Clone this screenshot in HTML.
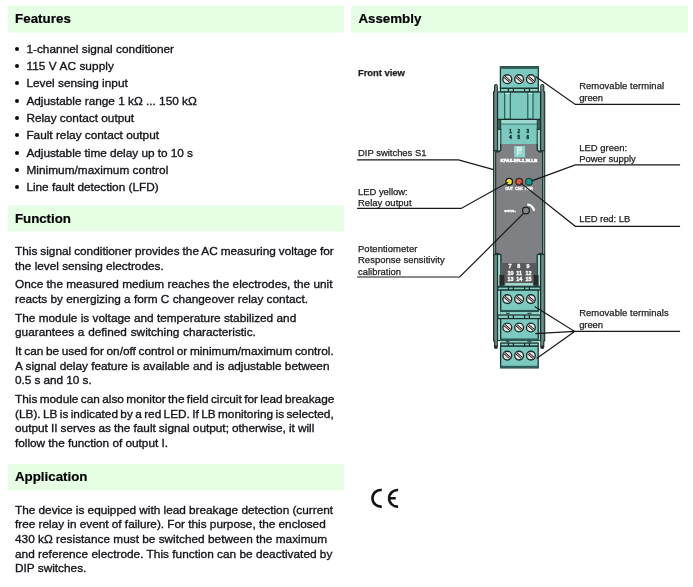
<!DOCTYPE html>
<html lang="en">
<head>
<meta charset="utf-8">
<title>Signal conditioner - Features / Assembly</title>
<style>
html,body{margin:0;padding:0;background:#fff;}
body{width:693px;height:587px;position:relative;overflow:hidden;font-family:"Liberation Sans",Arial,Helvetica,sans-serif;color:#13141a;}
#txt{position:absolute;left:0;top:0;width:693px;height:587px;will-change:transform;}
.t{position:absolute;white-space:nowrap;line-height:1;margin:0;padding:0;font-weight:400;-webkit-text-stroke:0.34px currentColor;}
.b{font-size:11.82px;}
.h{font-size:13.33px;font-weight:700;color:#000;-webkit-text-stroke-width:0.2px;}
.l{font-size:9.45px;-webkit-text-stroke-width:0.25px;color:#1c1c1f;}
.dot{position:absolute;width:4px;height:4px;border-radius:50%;background:#0c0c0c;}
svg{position:absolute;left:0;top:0;will-change:transform;}
svg text{font-family:"Liberation Sans",Arial,Helvetica,sans-serif;}
</style>
</head>
<body>
<svg width="693" height="587" viewBox="0 0 693 587" role="img" aria-label="Front view of the device with callouts">
<defs>
<linearGradient id="rl" x1="0" x2="1" y1="0" y2="0"><stop offset="0" stop-color="#486862"/><stop offset="1" stop-color="#8eaca7"/></linearGradient>
<linearGradient id="rr" x1="0" x2="1" y1="0" y2="0"><stop offset="0" stop-color="#8eaca7"/><stop offset="1" stop-color="#486862"/></linearGradient>
</defs>
<rect x="7.4" y="5.8" width="336.4" height="26.9" fill="#e5fee4"/>
<rect x="351.2" y="5.8" width="336.8" height="26.9" fill="#e5fee4"/>
<rect x="7.4" y="205.3" width="336.4" height="26.1" fill="#e5fee4"/>
<rect x="7.4" y="463.9" width="336.4" height="26.3" fill="#e5fee4"/>
<path d="M494.50 346.8 V341 H493.60 V91.8 H494.50 V86.2 Q494.50 84.55 495.90 84.55 Q497.30 84.55 497.30 86.2 V346.8 Q497.30 348.5 495.90 348.5 Q494.50 348.5 494.50 346.8 Z" fill="url(#rl)" stroke="#17302d" stroke-width="1.1" stroke-linejoin="round"/>
<rect x="494.50" y="345.4" width="2.80" height="2.8" fill="#2a2f2e"/>
<path d="M543.80 346.8 V341 H544.70 V91.8 H543.80 V86.2 Q543.80 84.55 542.30 84.55 Q540.80 84.55 540.80 86.2 V346.8 Q540.80 348.5 542.30 348.5 Q543.80 348.5 543.80 346.8 Z" fill="url(#rr)" stroke="#17302d" stroke-width="1.1" stroke-linejoin="round"/>
<rect x="540.80" y="345.4" width="3.00" height="2.8" fill="#2a2f2e"/>
<rect x="497.6" y="91.9" width="42.9" height="60" fill="#7ccabf" stroke="#17302d" stroke-width="1.1"/>
<rect x="504.7" y="92.2" width="5.6" height="27" fill="#86d0c5" stroke="#265a54" stroke-width="1.2"/>
<rect x="505.3" y="92.7" width="4.4" height="1.3" fill="#c4e8e2"/>
<rect x="527.8" y="92.2" width="5.2" height="27" fill="#86d0c5" stroke="#265a54" stroke-width="1.2"/>
<rect x="528.4" y="92.7" width="4.0" height="1.3" fill="#c4e8e2"/>
<rect x="500.8" y="119.3" width="36.4" height="4.4" fill="#9fd9d0"/>
<rect x="500.8" y="124.6" width="36.4" height="19.4" fill="#7ccabf"/>
<path d="M500.8 124.1 H537.2" stroke="#3f837b" stroke-width="1"/>
<rect x="497.6" y="129.2" width="3.2" height="22" fill="#a4dbd3" stroke="#17302d" stroke-width="1"/>
<rect x="497.6" y="119.5" width="3.2" height="9.7" fill="#3b5b56" stroke="#17302d" stroke-width="0.8"/>
<rect x="537.2" y="129.2" width="3.2" height="22" fill="#a4dbd3" stroke="#17302d" stroke-width="1"/>
<rect x="537.2" y="119.5" width="3.2" height="9.7" fill="#3b5b56" stroke="#17302d" stroke-width="0.8"/>
<path d="M497.6 119.3 H540.5" stroke="#17302d" stroke-width="1.2"/>
<rect x="500.4" y="88.2" width="37.9" height="3.6" fill="#88cfc4" stroke="#17302d" stroke-width="1.2"/>
<path d="M508.4 88.2 V91.8 M513.4 88.2 V91.8 M524.6 88.2 V91.8 M529.4 88.2 V91.8" stroke="#17302d" stroke-width="1.3" fill="none"/>
<rect x="500.4" y="66.7" width="37.9" height="21.5" fill="#7ccabf" stroke="#17302d" stroke-width="1.25"/>
<rect x="500.0" y="66.3" width="38.7" height="2.6" fill="#2f5e58"/>
<g><circle cx="507.3" cy="79.2" r="4.4" fill="#e6e6e6" stroke="#17302d" stroke-width="1.35"/><path d="M504.24 76.54 L510.36 81.86" stroke="#c9a9a9" stroke-width="1.5" fill="none"/><path d="M504.89 75.98 L510.82 81.13" stroke="#281819" stroke-width="1.0" fill="none"/><path d="M503.78 77.27 L509.71 82.42" stroke="#281819" stroke-width="1.0" fill="none"/></g>
<g><circle cx="519.1" cy="79.2" r="4.4" fill="#e6e6e6" stroke="#17302d" stroke-width="1.35"/><path d="M516.04 76.54 L522.16 81.86" stroke="#c9a9a9" stroke-width="1.5" fill="none"/><path d="M516.69 75.98 L522.62 81.13" stroke="#281819" stroke-width="1.0" fill="none"/><path d="M515.58 77.27 L521.51 82.42" stroke="#281819" stroke-width="1.0" fill="none"/></g>
<g><circle cx="530.9" cy="79.2" r="4.4" fill="#e6e6e6" stroke="#17302d" stroke-width="1.35"/><path d="M527.84 76.54 L533.96 81.86" stroke="#c9a9a9" stroke-width="1.5" fill="none"/><path d="M528.49 75.98 L534.42 81.13" stroke="#281819" stroke-width="1.0" fill="none"/><path d="M527.38 77.27 L533.31 82.42" stroke="#281819" stroke-width="1.0" fill="none"/></g>
<g font-size="4.5" font-weight="700" fill="#0f322e" stroke="#0f322e" stroke-width="0.4" text-anchor="middle"><text x="510.5" y="132.7">1</text><text x="510.5" y="138.8">4</text><text x="518.7" y="132.7">2</text><text x="518.7" y="138.8">5</text><text x="527.7" y="132.7">3</text><text x="527.7" y="138.8">6</text></g>
<path d="M500.8 143.9 H537.2 V150.0 L539.2 151.8 H543.6 V253.6 H539.2 L537.4 255.4 V263 H500.8 V255.4 L498.8 253.6 H494.4 V151.8 H498.8 L500.8 150.0 Z" fill="#7e8083"/>
<path d="M500.8 143.9 V150.0 L498.8 151.8 H495.6 V253.6 H498.8 L500.8 255.4 V286 M537.2 143.9 V150.0 L539.2 151.8 H542.6 V253.6 H539.2 L537.4 255.4 V286" fill="none" stroke="#17302d" stroke-width="1.2"/>
<path d="M493.4 150.6 H497.6 M540.5 150.6 H544.6 M493.4 254.6 H497.6 M540.5 254.6 H544.6" fill="none" stroke="#17302d" stroke-width="1"/>
<path d="M494.55 151.8 V253.6 M543.55 151.8 V253.6" fill="none" stroke="#7c9a94" stroke-width="1.2"/>
<rect x="501.4" y="263" width="35.5" height="22.7" fill="#595b5e"/>
<rect x="514.1" y="146.1" width="11" height="11.2" fill="#8ed3c9"/>
<path d="M517.5 155.6 V147.2 H521.2 V150.6 H517.5 M517.5 153.0 H521.8" stroke="#dcf4f0" stroke-width="1.15" fill="#b9e6df"/>
<text x="500.4" y="161.8" font-size="3.9" font-weight="700" fill="#ffffff" stroke="#ffffff" stroke-width="0.4" textLength="37" lengthAdjust="spacingAndGlyphs">KFA5-ER-1.W.LB</text>
<circle cx="509.2" cy="181.7" r="3.3" fill="#f4e43a" stroke="#1e1e1e" stroke-width="1.3"/>
<circle cx="519.2" cy="181.7" r="3.3" fill="#e6553c" stroke="#3a2a26" stroke-width="1.3"/>
<circle cx="529.0" cy="181.7" r="3.3" fill="#17998b" stroke="#1c4a45" stroke-width="1.3"/>
<g font-size="3.5" font-weight="700" fill="#ffffff" stroke="#ffffff" stroke-width="0.3" text-anchor="middle"><text x="509.2" y="189.8">OUT</text><text x="519.0" y="189.8">CHK</text><text x="528.8" y="189.8">PWR</text></g>
<path d="M527.3 204.7 A6.8 6.8 0 0 1 534.1 210.9" stroke="#ffffff" stroke-width="2.3" fill="none"/>
<circle cx="525.9" cy="210.5" r="3.4" fill="#818386" stroke="#222222" stroke-width="1.2"/>
<text x="504.3" y="212.1" font-size="4" font-weight="700" fill="#ffffff" stroke="#ffffff" stroke-width="0.3" textLength="11.6" lengthAdjust="spacingAndGlyphs">sens.</text>
<rect x="497.6" y="254.6" width="3.2" height="86" fill="#a4dbd3" stroke="#17302d" stroke-width="1"/>
<rect x="537.3" y="254.6" width="3.2" height="86" fill="#a4dbd3" stroke="#17302d" stroke-width="1"/>
<rect x="500.3" y="285.7" width="38.3" height="57.5" fill="#8fd2c8"/>
<g font-size="5.4" font-weight="700" fill="#ffffff" stroke="#ffffff" stroke-width="0.35" text-anchor="middle"><text x="510.1" y="267.9">7</text><text x="518.8" y="267.9">8</text><text x="528.1" y="267.9">9</text><text x="510.5" y="275.0">10</text><text x="519.2" y="275.0">11</text><text x="528.4" y="275.0">12</text><text x="510.5" y="280.9">13</text><text x="519.2" y="280.9">14</text><text x="528.4" y="280.9">15</text></g>
<rect x="499.4" y="274.9" width="4.9" height="10.8" fill="#2b2c2a"/>
<rect x="533.7" y="274.9" width="4.9" height="10.8" fill="#2b2c2a"/>
<rect x="505.2" y="283.1" width="27.7" height="2.6" fill="#a6ddd5"/>
<path d="M497.6 286.2 H540.5" stroke="#17302d" stroke-width="1.1"/>
<rect x="497.8" y="287.0" width="42.6" height="3.1" fill="#88cfc4" stroke="#17302d" stroke-width="1.2"/>
<path d="M508.4 287.0 V290.1 M513.4 287.0 V290.1 M524.6 287.0 V290.1 M529.4 287.0 V290.1" stroke="#17302d" stroke-width="1.3" fill="none"/>
<rect x="500.7" y="290.1" width="37.5" height="21.3" fill="#7ccabf" stroke="#17302d" stroke-width="1.25"/>
<rect x="500.3" y="309.9" width="38.3" height="1.9" fill="#2f5e58"/>
<g><circle cx="507.3" cy="299.1" r="4.4" fill="#e6e6e6" stroke="#17302d" stroke-width="1.35"/><path d="M504.24 296.44 L510.36 301.76" stroke="#c9a9a9" stroke-width="1.5" fill="none"/><path d="M504.89 295.88 L510.82 301.03" stroke="#281819" stroke-width="1.0" fill="none"/><path d="M503.78 297.17 L509.71 302.32" stroke="#281819" stroke-width="1.0" fill="none"/></g>
<g><circle cx="519.1" cy="299.1" r="4.4" fill="#e6e6e6" stroke="#17302d" stroke-width="1.35"/><path d="M516.04 296.44 L522.16 301.76" stroke="#c9a9a9" stroke-width="1.5" fill="none"/><path d="M516.69 295.88 L522.62 301.03" stroke="#281819" stroke-width="1.0" fill="none"/><path d="M515.58 297.17 L521.51 302.32" stroke="#281819" stroke-width="1.0" fill="none"/></g>
<g><circle cx="530.9" cy="299.1" r="4.4" fill="#e6e6e6" stroke="#17302d" stroke-width="1.35"/><path d="M527.84 296.44 L533.96 301.76" stroke="#c9a9a9" stroke-width="1.5" fill="none"/><path d="M528.49 295.88 L534.42 301.03" stroke="#281819" stroke-width="1.0" fill="none"/><path d="M527.38 297.17 L533.31 302.32" stroke="#281819" stroke-width="1.0" fill="none"/></g>
<path d="M506 313.3 H509.5 M527.4 313.3 H531.5" stroke="#17302d" stroke-width="1"/>
<rect x="497.8" y="315.0" width="42.6" height="3.6" fill="#88cfc4" stroke="#17302d" stroke-width="1.2"/>
<path d="M508.4 315.0 V318.6 M513.4 315.0 V318.6 M524.6 315.0 V318.6 M529.4 315.0 V318.6" stroke="#17302d" stroke-width="1.3" fill="none"/>
<rect x="500.7" y="318.6" width="37.5" height="21.6" fill="#7ccabf" stroke="#17302d" stroke-width="1.25"/>
<rect x="500.3" y="338.4" width="38.3" height="2.2" fill="#2f5e58"/>
<g><circle cx="507.3" cy="327.5" r="4.4" fill="#e6e6e6" stroke="#17302d" stroke-width="1.35"/><path d="M504.24 324.84 L510.36 330.16" stroke="#c9a9a9" stroke-width="1.5" fill="none"/><path d="M504.89 324.28 L510.82 329.43" stroke="#281819" stroke-width="1.0" fill="none"/><path d="M503.78 325.57 L509.71 330.72" stroke="#281819" stroke-width="1.0" fill="none"/></g>
<g><circle cx="519.1" cy="327.5" r="4.4" fill="#e6e6e6" stroke="#17302d" stroke-width="1.35"/><path d="M516.04 324.84 L522.16 330.16" stroke="#c9a9a9" stroke-width="1.5" fill="none"/><path d="M516.69 324.28 L522.62 329.43" stroke="#281819" stroke-width="1.0" fill="none"/><path d="M515.58 325.57 L521.51 330.72" stroke="#281819" stroke-width="1.0" fill="none"/></g>
<g><circle cx="530.9" cy="327.5" r="4.4" fill="#e6e6e6" stroke="#17302d" stroke-width="1.35"/><path d="M527.84 324.84 L533.96 330.16" stroke="#c9a9a9" stroke-width="1.5" fill="none"/><path d="M528.49 324.28 L534.42 329.43" stroke="#281819" stroke-width="1.0" fill="none"/><path d="M527.38 325.57 L533.31 330.72" stroke="#281819" stroke-width="1.0" fill="none"/></g>
<path d="M506 341.8 H509.5 M527.4 341.8 H531.5" stroke="#17302d" stroke-width="1"/>
<rect x="500.7" y="343.1" width="37.5" height="3.1" fill="#88cfc4" stroke="#17302d" stroke-width="1.2"/>
<path d="M508.4 343.1 V346.2 M513.4 343.1 V346.2 M524.6 343.1 V346.2 M529.4 343.1 V346.2" stroke="#17302d" stroke-width="1.3" fill="none"/>
<rect x="500.6" y="346.2" width="37.6" height="21.6" fill="#7ccabf" stroke="#17302d" stroke-width="1.25"/>
<rect x="500.2" y="365.8" width="38.4" height="2.4" fill="#2f5e58"/>
<g><circle cx="507.3" cy="355.6" r="4.4" fill="#e6e6e6" stroke="#17302d" stroke-width="1.35"/><path d="M504.24 352.94 L510.36 358.26" stroke="#c9a9a9" stroke-width="1.5" fill="none"/><path d="M504.89 352.38 L510.82 357.53" stroke="#281819" stroke-width="1.0" fill="none"/><path d="M503.78 353.67 L509.71 358.82" stroke="#281819" stroke-width="1.0" fill="none"/></g>
<g><circle cx="519.1" cy="355.6" r="4.4" fill="#e6e6e6" stroke="#17302d" stroke-width="1.35"/><path d="M516.04 352.94 L522.16 358.26" stroke="#c9a9a9" stroke-width="1.5" fill="none"/><path d="M516.69 352.38 L522.62 357.53" stroke="#281819" stroke-width="1.0" fill="none"/><path d="M515.58 353.67 L521.51 358.82" stroke="#281819" stroke-width="1.0" fill="none"/></g>
<g><circle cx="530.9" cy="355.6" r="4.4" fill="#e6e6e6" stroke="#17302d" stroke-width="1.35"/><path d="M527.84 352.94 L533.96 358.26" stroke="#c9a9a9" stroke-width="1.5" fill="none"/><path d="M528.49 352.38 L534.42 357.53" stroke="#281819" stroke-width="1.0" fill="none"/><path d="M527.38 353.67 L533.31 358.82" stroke="#281819" stroke-width="1.0" fill="none"/></g>
<g fill="none" stroke="#181818" stroke-width="1.2" stroke-linejoin="miter">
<path d="M535.6 76.6 L575.3 104.45 H680.1"/>
<path d="M531.8 180.9 L575.3 164.95 H680.1"/>
<path d="M520.6 182.9 L575.3 226.3 H680.1"/>
<path d="M357.1 159.9 H458.5 L493.6 169.6"/>
<path d="M357.1 208.45 H461.1 L508.2 182.2"/>
<path d="M357.1 277.0 H459.7 L523.6 213.4"/>
<path d="M680.1 331.4 H574.6 L534.7 306.4 M574.6 331.4 L535.2 333.6 M574.6 331.4 L536.6 358.6"/>
</g>
<g fill="none" stroke="#141414" stroke-width="2.6">
<path d="M381.8 490.07 A8.3 8.3 0 1 0 381.8 506.53"/>
<path d="M398.1 490.03 A8.3 8.3 0 1 0 398.1 506.57 M389.4 498.3 H395.8"/>
</g>
</svg>
<div id="txt">
<div class="dot" style="left:14.9px;top:46.7px"></div>
<div class="dot" style="left:14.9px;top:63.7px"></div>
<div class="dot" style="left:14.9px;top:80.7px"></div>
<div class="dot" style="left:14.9px;top:98.7px"></div>
<div class="dot" style="left:14.9px;top:115.7px"></div>
<div class="dot" style="left:14.9px;top:132.7px"></div>
<div class="dot" style="left:14.9px;top:150.7px"></div>
<div class="dot" style="left:14.9px;top:167.7px"></div>
<div class="dot" style="left:14.9px;top:184.7px"></div>
<h2 class="t h" id="t0" style="left:15.00px;top:12px;letter-spacing:0.042px;">Features</h2>
<h2 class="t h" id="t1" style="left:358.40px;top:12px;">Assembly</h2>
<h2 class="t h" id="t2" style="left:15.00px;top:212px;letter-spacing:-0.058px;">Function</h2>
<h2 class="t h" id="t3" style="left:15.00px;top:470px;letter-spacing:-0.016px;">Application</h2>
<div class="t b" id="t4" style="left:26.40px;top:44px;letter-spacing:0.021px;">1-channel signal conditioner</div>
<div class="t b" id="t5" style="left:26.40px;top:61px;letter-spacing:0.076px;">115 V AC supply</div>
<div class="t b" id="t6" style="left:26.40px;top:78px;letter-spacing:0.014px;">Level sensing input</div>
<div class="t b" id="t7" style="left:26.40px;top:96px;letter-spacing:-0.008px;">Adjustable range 1 kΩ ... 150 kΩ</div>
<div class="t b" id="t8" style="left:26.40px;top:113px;">Relay contact output</div>
<div class="t b" id="t9" style="left:26.40px;top:130px;">Fault relay contact output</div>
<div class="t b" id="t10" style="left:26.40px;top:148px;letter-spacing:-0.026px;">Adjustable time delay up to 10 s</div>
<div class="t b" id="t11" style="left:26.40px;top:165px;letter-spacing:0.034px;">Minimum/maximum control</div>
<div class="t b" id="t12" style="left:26.40px;top:182px;letter-spacing:-0.017px;">Line fault detection (LFD)</div>
<div class="t b" id="t13" style="left:15.00px;top:246px;word-spacing:-0.297px;">This signal conditioner provides the AC measuring voltage for</div>
<div class="t b" id="t14" style="left:15.00px;top:261px;letter-spacing:-0.013px;">the level sensing electrodes.</div>
<div class="t b" id="t15" style="left:15.00px;top:279px;letter-spacing:0.006px;">Once the measured medium reaches the electrodes, the unit</div>
<div class="t b" id="t16" style="left:15.00px;top:294px;letter-spacing:0.003px;">reacts by energizing a form C changeover relay contact.</div>
<div class="t b" id="t17" style="left:15.00px;top:313px;letter-spacing:0.003px;">The module is voltage and temperature stabilized and</div>
<div class="t b" id="t18" style="left:15.00px;top:327px;word-spacing:0.471px;">guarantees a defined switching characteristic.</div>
<div class="t b" id="t19" style="left:15.00px;top:346px;word-spacing:-0.601px;">It can be used for on/off control or minimum/maximum control.</div>
<div class="t b" id="t20" style="left:15.00px;top:361px;letter-spacing:-0.001px;">A signal delay feature is available and is adjustable between</div>
<div class="t b" id="t21" style="left:15.00px;top:375px;letter-spacing:-0.053px;">0.5 s and 10 s.</div>
<div class="t b" id="t22" style="left:15.00px;top:394px;word-spacing:-0.900px;">This module can also monitor the field circuit for lead breakage</div>
<div class="t b" id="t23" style="left:15.00px;top:409px;word-spacing:-0.909px;">(LB). LB is indicated by a red LED. If LB monitoring is selected,</div>
<div class="t b" id="t24" style="left:15.00px;top:423px;word-spacing:-0.207px;">output II serves as the fault signal output; otherwise, it will</div>
<div class="t b" id="t25" style="left:15.00px;top:438px;letter-spacing:-0.021px;">follow the function of output I.</div>
<div class="t b" id="t26" style="left:15.00px;top:505px;letter-spacing:-0.019px;">The device is equipped with lead breakage detection (current</div>
<div class="t b" id="t27" style="left:15.00px;top:519px;letter-spacing:-0.019px;">free relay in event of failure). For this purpose, the enclosed</div>
<div class="t b" id="t28" style="left:15.00px;top:534px;letter-spacing:0.009px;">430 kΩ resistance must be switched between the maximum</div>
<div class="t b" id="t29" style="left:15.00px;top:549px;letter-spacing:0.018px;">and reference electrode. This function can be deactivated by</div>
<div class="t b" id="t30" style="left:15.00px;top:563px;">DIP switches.</div>
<div class="t l" id="t31" style="left:358.00px;top:68px;font-weight:700;-webkit-text-stroke-width:0.25px;letter-spacing:-0.040px;">Front view</div>
<div class="t l" id="t32" style="left:358.00px;top:148px;letter-spacing:-0.003px;">DIP switches S1</div>
<div class="t l" id="t33" style="left:358.00px;top:187px;letter-spacing:-0.021px;">LED yellow:</div>
<div class="t l" id="t34" style="left:358.00px;top:198px;letter-spacing:0.050px;">Relay output</div>
<div class="t l" id="t35" style="left:358.00px;top:244px;letter-spacing:0.056px;">Potentiometer</div>
<div class="t l" id="t36" style="left:358.00px;top:255px;letter-spacing:0.038px;">Response sensitivity</div>
<div class="t l" id="t37" style="left:358.00px;top:267px;letter-spacing:-0.003px;">calibration</div>
<div class="t l" id="t38" style="left:579.20px;top:81px;letter-spacing:0.054px;">Removable terminal</div>
<div class="t l" id="t39" style="left:579.20px;top:93px;letter-spacing:-0.086px;">green</div>
<div class="t l" id="t40" style="left:579.20px;top:143px;letter-spacing:0.016px;">LED green:</div>
<div class="t l" id="t41" style="left:579.20px;top:154px;letter-spacing:-0.012px;">Power supply</div>
<div class="t l" id="t42" style="left:579.20px;top:214px;letter-spacing:-0.037px;">LED red: LB</div>
<div class="t l" id="t43" style="left:579.20px;top:308px;letter-spacing:0.050px;">Removable terminals</div>
<div class="t l" id="t44" style="left:579.20px;top:320px;letter-spacing:-0.086px;">green</div>
</div>
</body>
</html>
